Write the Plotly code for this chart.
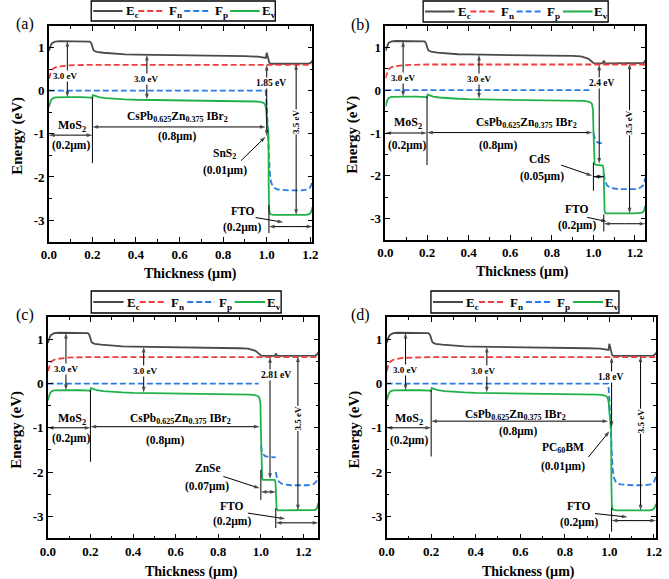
import plotly.graph_objects as go

W, H = 669, 579
FONT = "Liberation Serif, Times New Roman, DejaVu Serif, serif"
C_EC, C_FN, C_FP, C_EV = "#4a4a4a", "#f03c3c", "#2b7be4", "#21b14b"

# ---------------- values ----------------
x_tick_vals = [0, 0.2, 0.4, 0.6, 0.8, 1.0, 1.2]
x_tick_text = ["0.0", "0.2", "0.4", "0.6", "0.8", "1.0", "1.2"]
y_tick_vals = [-3, -2, -1, 0, 1]
y_tick_text = ["-3", "-2", "-1", "0", "1"]
legend_names = ["E<sub>c</sub>", "F<sub>n</sub>", "F<sub>p</sub>", "E<sub>v</sub>"]
panel_labels = ["(a)", "(b)", "(c)", "(d)"]
absorber_name = "CsPb<sub>0.625</sub>Zn<sub>0.375</sub> IBr<sub>2</sub>"
etl_names = ["SnS<sub>2</sub>", "CdS", "ZnSe", "PC<sub>60</sub>BM"]
etl_thick_text = ["(0.01µm)", "(0.05µm)", "(0.07µm)", "(0.01µm)"]
offset_text = ["1.85 eV", "2.4 eV", "2.81 eV", "1.8 eV"]
device_len = [1.21, 1.25, 1.27, 1.21]

# MoS2 (0-0.2 µm) + perovskite (0.2-1.0 µm) part, common to all panels
ec_base_x = [0, 0.005, 0.01, 0.015, 0.02, 0.03, 0.05, 0.1, 0.15, 0.175, 0.188, 0.195, 0.2, 0.205, 0.21, 0.22, 0.25, 0.3, 0.35, 0.4, 0.5, 0.6, 0.7, 0.8, 0.9]
ec_base_y = [0.92, 1.0, 1.06, 1.1, 1.12, 1.14, 1.15, 1.15, 1.15, 1.15, 1.14, 1.1, 0.98, 0.94, 0.92, 0.9, 0.88, 0.855, 0.84, 0.835, 0.83, 0.825, 0.82, 0.81, 0.8]
ev_base_x = [0, 0.005, 0.01, 0.015, 0.02, 0.03, 0.05, 0.1, 0.15, 0.185, 0.195, 0.199, 0.2, 0.203, 0.207, 0.215, 0.23, 0.26, 0.3, 0.35, 0.4, 0.5, 0.6, 0.7, 0.8, 0.9]
ev_base_y = [-0.38, -0.28, -0.22, -0.19, -0.17, -0.155, -0.15, -0.15, -0.15, -0.15, -0.16, -0.17, -0.11, -0.1, -0.11, -0.13, -0.15, -0.17, -0.19, -0.2, -0.21, -0.215, -0.22, -0.225, -0.23, -0.24]
fn_base_x = [0, 0.004, 0.008, 0.013, 0.02, 0.03, 0.045, 0.065, 0.09, 0.12, 0.16, 0.2]
fn_base_y = [0.28, 0.36, 0.42, 0.47, 0.51, 0.54, 0.56, 0.575, 0.585, 0.592, 0.597, 0.6]

# (a) SnS2 ETL
ec_a_x = [0.96, 0.98, 0.99, 0.996, 1.0, 1.004, 1.008, 1.012, 1.016, 1.02, 1.1, 1.18, 1.195, 1.203, 1.21]
ec_a_y = [0.79, 0.78, 0.77, 0.76, 0.88, 0.79, 0.70, 0.65, 0.63, 0.625, 0.625, 0.625, 0.635, 0.65, 0.70]
ev_a_x = [0.95, 0.97, 0.985, 0.992, 0.997, 1.0, 1.004, 1.008, 1.009, 1.011, 1.015, 1.03, 1.1, 1.18, 1.195, 1.203, 1.21]
ev_a_y = [-0.25, -0.26, -0.28, -0.32, -0.42, -0.65, -0.92, -1.03, -2.2, -2.75, -2.86, -2.88, -2.88, -2.88, -2.86, -2.82, -2.7]
fp_a_x = [0, 0.995, 1.0, 1.004, 1.008, 1.01, 1.014, 1.02, 1.03, 1.05, 1.1, 1.16, 1.185, 1.198, 1.205, 1.21]
fp_a_y = [0, 0, -0.35, -0.8, -1.05, -1.5, -1.9, -2.12, -2.24, -2.29, -2.31, -2.31, -2.29, -2.25, -2.18, -2.05]
fn_a_x = [1.21]
fn_a_y = [0.6]

# (b) CdS ETL
ec_b_x = [0.94, 0.96, 0.975, 0.985, 0.993, 1.0, 1.01, 1.045, 1.05, 1.053, 1.057, 1.065, 1.15, 1.23, 1.24, 1.245, 1.25]
ec_b_y = [0.79, 0.77, 0.74, 0.70, 0.66, 0.635, 0.625, 0.625, 0.69, 0.645, 0.625, 0.625, 0.625, 0.625, 0.635, 0.65, 0.70]
ev_b_x = [0.95, 0.97, 0.985, 0.993, 0.998, 1.0, 1.003, 1.006, 1.01, 1.02, 1.045, 1.049, 1.051, 1.054, 1.06, 1.1, 1.2, 1.235, 1.243, 1.25]
ev_b_y = [-0.25, -0.26, -0.28, -0.32, -0.45, -0.9, -1.6, -1.72, -1.74, -1.75, -1.76, -1.85, -2.5, -2.84, -2.88, -2.88, -2.88, -2.86, -2.82, -2.7]
fp_b_x = [0, 0.99, None, 1.0, 1.004, 1.01, 1.02, 1.035, 1.05, None, 1.05, 1.055, 1.065, 1.08, 1.12, 1.2, 1.225, 1.24, 1.25]
fp_b_y = [0, 0, None, -1.0, -1.1, -1.18, -1.22, -1.24, -1.25, None, -1.95, -2.1, -2.22, -2.28, -2.31, -2.31, -2.28, -2.22, -2.05]
fn_b_x = [1.25]
fn_b_y = [0.6]

# (c) ZnSe ETL
ec_c_x = [0.94, 0.96, 0.975, 0.985, 0.993, 1.0, 1.01, 1.065, 1.07, 1.073, 1.077, 1.085, 1.2, 1.255, 1.262, 1.27]
ec_c_y = [0.79, 0.77, 0.74, 0.70, 0.66, 0.635, 0.625, 0.625, 0.68, 0.64, 0.625, 0.625, 0.625, 0.635, 0.65, 0.70]
ev_c_x = [0.95, 0.97, 0.985, 0.993, 0.998, 1.0, 1.003, 1.006, 1.01, 1.03, 1.065, 1.069, 1.071, 1.074, 1.08, 1.15, 1.255, 1.263, 1.27]
ev_c_y = [-0.25, -0.26, -0.28, -0.32, -0.45, -1.0, -1.9, -2.14, -2.18, -2.18, -2.18, -2.25, -2.6, -2.84, -2.87, -2.87, -2.86, -2.82, -2.7]
fp_c_x = [0, 0.99, None, 1.0, 1.005, 1.012, 1.02, 1.035, 1.05, 1.07, None, 1.07, 1.075, 1.085, 1.1, 1.14, 1.22, 1.245, 1.26, 1.27]
fp_c_y = [0, 0, None, -1.4, -1.52, -1.6, -1.64, -1.66, -1.67, -1.67, None, -2.0, -2.12, -2.22, -2.27, -2.3, -2.3, -2.28, -2.22, -2.08]
fn_c_x = [1.27]
fn_c_y = [0.6]

# (d) PC60BM ETL
ec_d_x = [0.96, 0.98, 0.99, 0.996, 1.0, 1.004, 1.008, 1.012, 1.016, 1.02, 1.1, 1.18, 1.195, 1.203, 1.21]
ec_d_y = [0.79, 0.78, 0.77, 0.76, 0.9, 0.8, 0.70, 0.65, 0.63, 0.625, 0.625, 0.625, 0.635, 0.65, 0.70]
ev_d_x = [0.95, 0.97, 0.985, 0.992, 0.997, 1.0, 1.004, 1.008, 1.009, 1.011, 1.015, 1.03, 1.1, 1.18, 1.195, 1.203, 1.21]
ev_d_y = [-0.25, -0.26, -0.28, -0.32, -0.42, -0.65, -0.93, -1.0, -2.2, -2.75, -2.85, -2.87, -2.87, -2.87, -2.85, -2.81, -2.72]
fp_d_x = [0, 0.995, 1.0, 1.004, 1.008, 1.01, 1.014, 1.02, 1.03, 1.05, 1.1, 1.16, 1.185, 1.198, 1.205, 1.21]
fp_d_y = [0, 0, -0.35, -0.8, -1.0, -1.5, -1.9, -2.12, -2.24, -2.28, -2.3, -2.3, -2.28, -2.24, -2.17, -2.08]
fn_d_x = [1.21]
fn_d_y = [0.6]

series = [
    (ec_base_x + ec_a_x, ec_base_y + ec_a_y, fn_base_x + fn_a_x, fn_base_y + fn_a_y, fp_a_x, fp_a_y, ev_base_x + ev_a_x, ev_base_y + ev_a_y),
    (ec_base_x + ec_b_x, ec_base_y + ec_b_y, fn_base_x + fn_b_x, fn_base_y + fn_b_y, fp_b_x, fp_b_y, ev_base_x + ev_b_x, ev_base_y + ev_b_y),
    (ec_base_x + ec_c_x, ec_base_y + ec_c_y, fn_base_x + fn_c_x, fn_base_y + fn_c_y, fp_c_x, fp_c_y, ev_base_x + ev_c_x, ev_base_y + ev_c_y),
    (ec_base_x + ec_d_x, ec_base_y + ec_d_y, fn_base_x + fn_d_x, fn_base_y + fn_d_y, fp_d_x, fp_d_y, ev_base_x + ev_d_x, ev_base_y + ev_d_y),
]

# ---------------- layout geometry (pixels) ----------------
dom_px = [(41.7, 311.0, 26.0, 241.7), (385.5, 651.0, 26.0, 240.0),
          (40.7, 317.0, 317.3, 538.3), (386.7, 662.0, 317.3, 538.3)]
legend_px = [(85, 273, 1, 21), (424, 613, 1, 22), (85, 279, 291, 313), (432, 624, 291, 313)]
plabel_px = [(17, 24), (360, 25), (17, 315), (360, 315)]
xtitle_px = [(186, 274), (526, 272), (187, 572), (532, 572)]
ytitle_px = [(9, 136), (352, 135), (8, 430), (353, 430)]

# annotation positions in data units for each panel
ann_pos = [
    dict(g1=(0.085, 1.15, -0.15), g1t=(0.072, 0.33), g2=(0.45, 0.83, -0.2), g2t=(0.445, 0.28),
         mos=(0.105, -0.82), mosd=-1.03, most=(0.1, -1.26), v02=-1.68,
         per=(0.59, -0.62), perd=-0.84, pert=(0.587, -1.07),
         off=(1.0, 0.6, -1.05), offt=(1.02, 0.18), g35=(1.135, 0.62, -2.88), g35t=-0.72,
         etl=(0.807, -1.47), etlt=(0.81, -1.84), etla=((0.882, -1.62), (0.994, -1.07)), etld=None, etlv=None,
         fto=(0.89, -2.79), ftot=(0.885, -3.16), ftoa=((0.949, -2.94), (1.076, -3.05)),
         ftod=(1.01, 1.21, -3.15), ftov=(1.01, -2.65, -3.3)),
    dict(g1=(0.085, 1.15, -0.15), g1t=(0.085, 0.28), g2=(0.45, 0.83, -0.2), g2t=(0.448, 0.25),
         mos=(0.107, -0.77), mosd=-1.0, most=(0.103, -1.3), v02=-1.75,
         per=(0.68, -0.76), perd=-0.99, pert=(0.543, -1.3),
         off=(1.028, 0.6, -1.72), offt=(1.038, 0.16), g35=(1.174, 0.62, -2.88), g35t=-0.77,
         etl=(0.741, -1.61), etlt=(0.754, -2.02), etla=((0.845, -1.75), (0.995, -2.0)),
         etld=(1.0, 1.05, -2.02), etlv=(1.0, -1.69, -2.35),
         fto=(0.92, -2.78), ftot=(0.92, -3.17), ftoa=((0.97, -2.97), (1.065, -3.07)),
         ftod=(1.05, 1.25, -3.12), ftov=(1.05, -2.9, -3.3)),
    dict(g1=(0.085, 1.15, -0.15), g1t=(0.085, 0.32), g2=(0.45, 0.83, -0.2), g2t=(0.457, 0.285),
         mos=(0.112, -0.79), mosd=-1.0, most=(0.107, -1.24), v02=-1.77,
         per=(0.625, -0.79), perd=-0.975, pert=(0.552, -1.28),
         off=(1.043, 0.6, -2.16), offt=(1.07, 0.2), g35=(1.174, 0.62, -2.87), g35t=-0.79,
         etl=(0.751, -1.9), etlt=(0.747, -2.32), etla=((0.824, -2.1), (0.995, -2.37)),
         etld=(1.0, 1.07, -2.45), etlv=(1.0, -1.95, -2.63),
         fto=(0.861, -2.77), ftot=(0.865, -3.12), ftoa=((0.939, -2.93), (1.115, -3.06)),
         ftod=(1.07, 1.27, -3.15), ftov=(1.07, -2.82, -3.27)),
    dict(g1=(0.085, 1.15, -0.15), g1t=(0.084, 0.31), g2=(0.45, 0.83, -0.2), g2t=(0.431, 0.29),
         mos=(0.099, -0.79), mosd=-1.0, most=(0.099, -1.28), v02=-1.65,
         per=(0.58, -0.71), perd=-0.85, pert=(0.588, -1.09),
         off=(1.01, 0.6, -0.98), offt=(1.005, 0.16), g35=(1.14, 0.62, -2.87), g35t=-0.86,
         etl=(0.79, -1.45), etlt=(0.79, -1.88), etla=((0.906, -1.66), (1.0, -1.08)), etld=None, etlv=None,
         fto=(0.862, -2.78), ftot=(0.862, -3.15), ftoa=((0.935, -2.94), (1.082, -3.02)),
         ftod=(1.01, 1.21, -3.1), ftov=(1.01, -2.8, -3.35)),
]

HEAD = 6


def px(x):
    return x / W


def py(y):
    return 1 - y / H


def bold(size):
    return dict(family=FONT, size=size, color="black", weight="bold")


fig = go.Figure()
annotations = []
shapes = []


def arrow(xr, yr, tail, head, both):
    if both:
        mx, my = (tail[0] + head[0]) / 2, (tail[1] + head[1]) / 2
        xs = [mx, head[0], None, mx, tail[0]]
        ys = [my, head[1], None, my, tail[1]]
        sz = [0, HEAD, 0, 0, HEAD]
    else:
        xs = [tail[0], head[0]]
        ys = [tail[1], head[1]]
        sz = [0, HEAD]
    fig.add_trace(go.Scatter(x=xs, y=ys, xaxis=xr, yaxis=yr, mode="lines+markers", showlegend=False,
                             hoverinfo="skip", cliponaxis=False,
                             line=dict(color="black", width=1),
                             marker=dict(symbol="arrow", size=sz, angleref="previous", color="black",
                                         line=dict(width=0))))


def label(xr, yr, x, y, s, size, bg=None, angle=0):
    d = dict(x=x, y=y, xref=xr, yref=yr, text=s, showarrow=False, font=bold(size),
             xanchor="center", yanchor="middle", textangle=angle)
    if bg:
        d.update(bgcolor=bg, borderpad=0)
    annotations.append(d)


def vline(xr, yr, x, y0, y1):
    shapes.append(dict(type="line", xref=xr, yref=yr, x0=x, x1=x, y0=y0, y1=y1,
                       line=dict(color="black", width=1)))


axis_common = dict(showline=True, linecolor="black", linewidth=1.5, mirror="ticks", ticks="inside",
                   ticklen=5, tickwidth=1.2, tickcolor="black", showgrid=False, zeroline=False,
                   tickfont=bold(13))

for i in range(4):
    n = "" if i == 0 else str(i + 1)
    xr, yr = "x" + n, "y" + n
    ecx, ecy, fnx, fny, fpx, fpy, evx, evy = series[i]
    styles = [(ecx, ecy, C_EC, "solid"), (fnx, fny, C_FN, "6px,3px"),
              (fpx, fpy, C_FP, "6px,3px"), (evx, evy, C_EV, "solid")]
    for k, (xs, ys, c, dash) in enumerate(styles):
        fig.add_trace(go.Scatter(x=xs, y=ys, xaxis=xr, yaxis=yr, mode="lines", name=legend_names[k],
                                 showlegend=False, line=dict(color=c, width=1.8, dash=dash)))
    x0, x1, y0, y1 = dom_px[i]
    fig.layout["xaxis" + n] = dict(axis_common, domain=[px(x0), px(x1)], range=[0, device_len[i]],
                                   anchor=yr, tickmode="array", tickvals=x_tick_vals, ticktext=x_tick_text,
                                   minor=dict(tickmode="linear", tick0=0, dtick=0.1, ticks="inside",
                                              ticklen=3, tickcolor="black"))
    fig.layout["yaxis" + n] = dict(axis_common, domain=[py(y1), py(y0)], range=[-3.5, 1.5],
                                   anchor=xr, tickmode="array", tickvals=y_tick_vals, ticktext=y_tick_text,
                                   minor=dict(tickmode="linear", tick0=-3.5, dtick=0.5, ticks="inside",
                                              ticklen=3, tickcolor="black"))

    a = ann_pos[i]
    # band gap / offset arrows
    arrow(xr, yr, (a["g1"][0], a["g1"][1]), (a["g1"][0], a["g1"][2]), True)
    arrow(xr, yr, (a["g2"][0], a["g2"][1]), (a["g2"][0], a["g2"][2]), True)
    arrow(xr, yr, (a["off"][0], a["off"][1]), (a["off"][0], a["off"][2]), True)
    arrow(xr, yr, (a["g35"][0], a["g35"][1]), (a["g35"][0], a["g35"][2]), True)
    # thickness arrows
    arrow(xr, yr, (0.0, a["mosd"]), (0.2, a["mosd"]), True)
    arrow(xr, yr, (0.2, a["perd"]), (0.995, a["perd"]), True)
    arrow(xr, yr, a["etla"][0], a["etla"][1], False)
    if a["etld"]:
        arrow(xr, yr, (a["etld"][0], a["etld"][2]), (a["etld"][1], a["etld"][2]), True)
        vline(xr, yr, *a["etlv"])
    arrow(xr, yr, a["ftoa"][0], a["ftoa"][1], False)
    arrow(xr, yr, (a["ftod"][0], a["ftod"][2]), (a["ftod"][1], a["ftod"][2]), True)
    vline(xr, yr, *a["ftov"])
    vline(xr, yr, 0.2, -0.15, a["v02"])
    # texts
    label(xr, yr, *a["g1t"], "3.0 eV", 9, bg="white")
    label(xr, yr, *a["g2t"], "3.0 eV", 9, bg="white")
    label(xr, yr, *a["offt"], offset_text[i], 9.5, bg="white")
    label(xr, yr, a["g35"][0], a["g35t"], "3.5 eV", 9, bg="white", angle=-90)
    label(xr, yr, *a["mos"], "MoS<sub>2</sub>", 12)
    label(xr, yr, *a["most"], "(0.2µm)", 11.5)
    label(xr, yr, *a["per"], absorber_name, 11.5)
    label(xr, yr, *a["pert"], "(0.8µm)", 11.5)
    label(xr, yr, *a["etl"], etl_names[i], 11.5)
    label(xr, yr, *a["etlt"], etl_thick_text[i], 11.5)
    label(xr, yr, *a["fto"], "FTO", 11.5)
    label(xr, yr, *a["ftot"], "(0.2µm)", 11.5)

    # axis titles
    tx, ty = xtitle_px[i]
    annotations.append(dict(x=px(tx), y=py(ty), xref="paper", yref="paper", text="Thickness (µm)",
                            showarrow=False, font=bold(14), xanchor="center", yanchor="middle"))
    tx, ty = ytitle_px[i]
    annotations.append(dict(x=px(tx), y=py(ty), xref="paper", yref="paper", text="Energy (eV)",
                            showarrow=False, font=bold(15), xanchor="center", yanchor="middle", textangle=-90))
    # panel label
    tx, ty = plabel_px[i]
    annotations.append(dict(x=px(tx), y=py(ty), xref="paper", yref="paper", text=panel_labels[i],
                            showarrow=False, font=dict(family=FONT, size=16, color="black"),
                            xanchor="center", yanchor="middle"))

    # legend box drawn as in the original
    L, R, T, B = legend_px[i]
    s = (R - L) / 188.0
    shapes.append(dict(type="rect", xref="paper", yref="paper", x0=px(L), x1=px(R), y0=py(B), y1=py(T),
                       line=dict(color="black", width=1.3), fillcolor="white"))
    seg = [(2, 32), (48, 74), (95, 122), (142, 172)]
    txt = [33, 77, 124, 172]
    cols = [(C_EC, "solid"), (C_FN, "6px,3px"), (C_FP, "6px,3px"), (C_EV, "solid")]
    ym = (T + B) / 2
    for k in range(4):
        shapes.append(dict(type="line", xref="paper", yref="paper",
                           x0=px(L + seg[k][0] * s), x1=px(L + seg[k][1] * s), y0=py(ym), y1=py(ym),
                           line=dict(color=cols[k][0], width=2, dash=cols[k][1])))
        annotations.append(dict(x=px(L + txt[k] * s), y=py(ym + 1), xref="paper", yref="paper",
                                text=legend_names[k], showarrow=False, font=bold(13),
                                xanchor="left", yanchor="middle"))

fig.update_layout(width=W, height=H, margin=dict(l=0, r=0, t=0, b=0), plot_bgcolor="white",
                  paper_bgcolor="white", showlegend=False, annotations=annotations, shapes=shapes,
                  font=dict(family=FONT, color="black"))
fig.write_html("out.html", config={"displayModeBar": False},
               post_script="document.body.style.margin='0';document.body.style.padding='0';")
